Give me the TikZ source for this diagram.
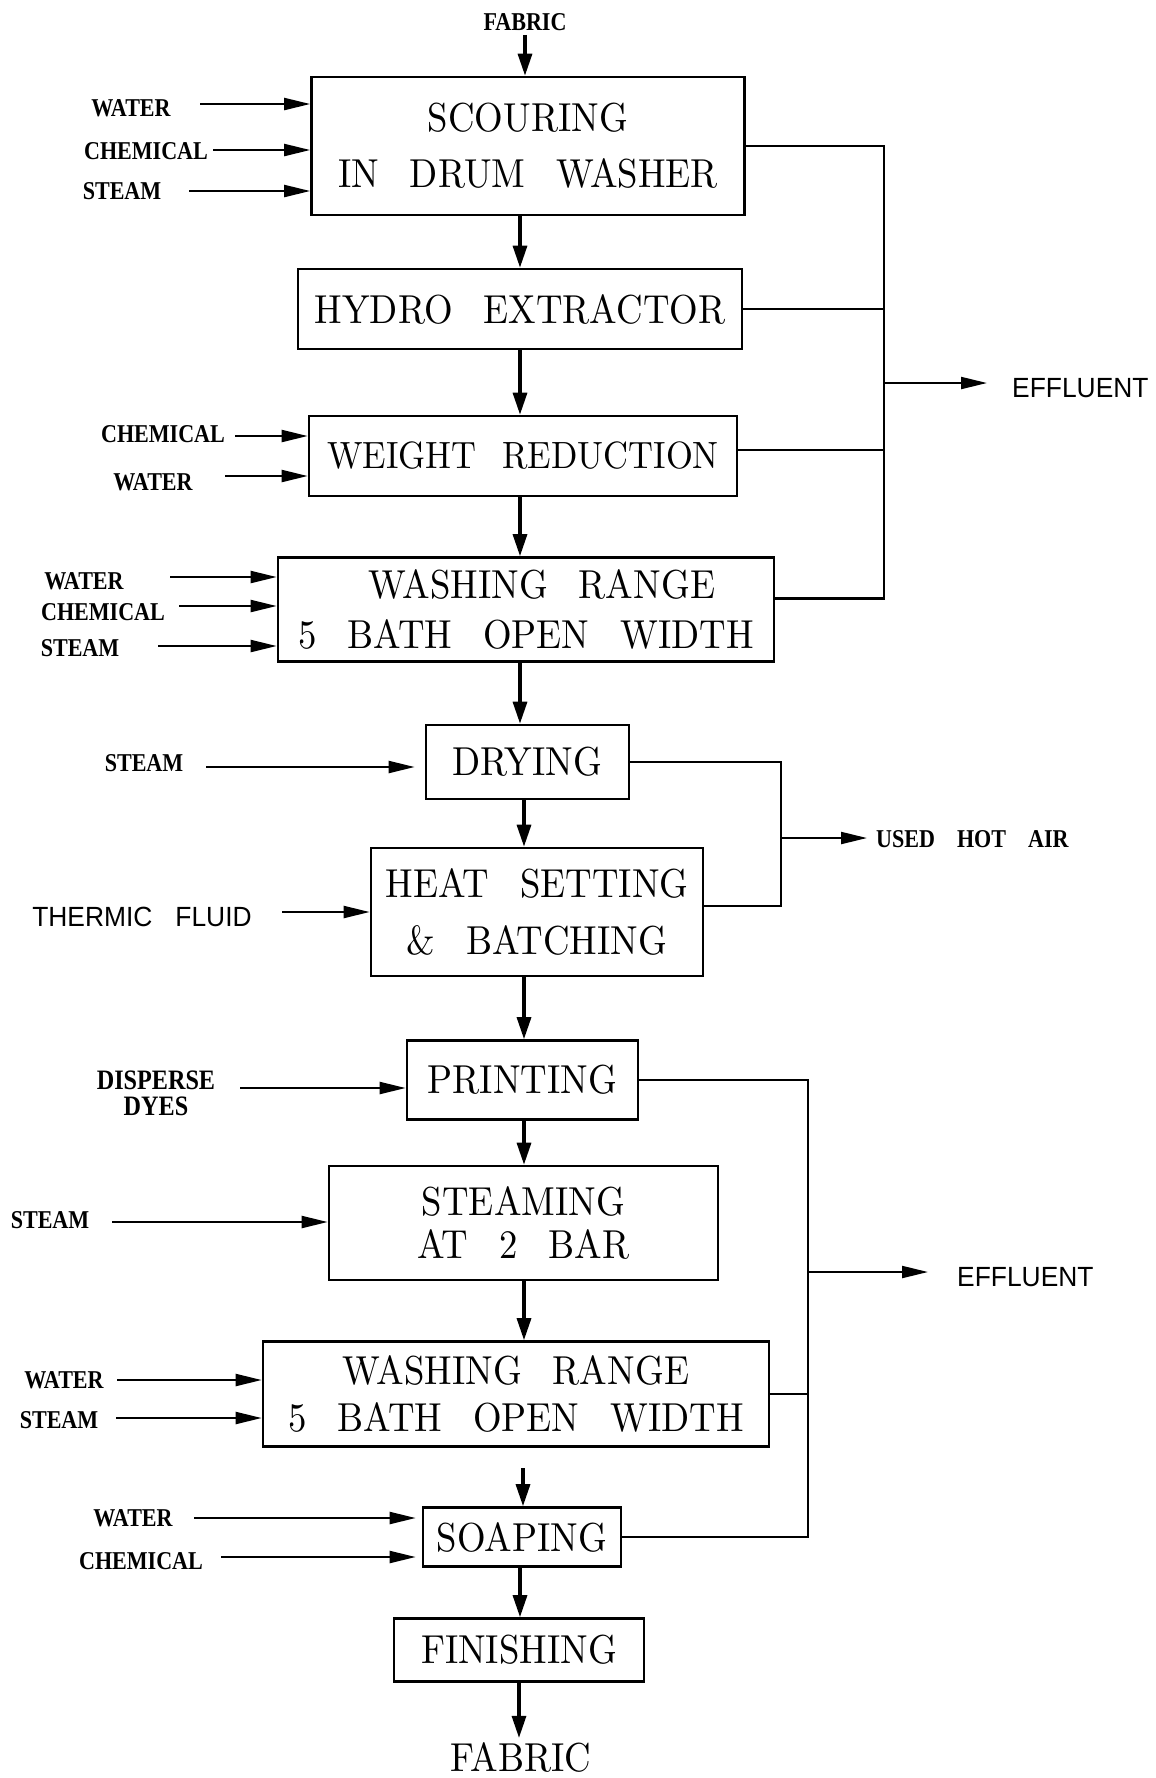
\documentclass[tikz,border=0pt]{standalone}
\usepackage{fontspec}
\usetikzlibrary{arrows.meta}
\newfontfamily\procfont{lmroman10-regular.otf}[FakeStretch=0.91]
\newfontfamily\lblfont{Liberation Serif}[FakeStretch=0.86]
\newfontfamily\cadfont{Liberation Sans}[FakeStretch=0.95]
\newcommand{\wgap}{\hspace{3.1mm}}
\newcommand{\lgap}{\hspace{2.2mm}}
\tikzset{
  procbox/.style={
    draw,line width=0.75pt,align=center,inner sep=1pt,
    font=\procfont\fontsize{11.5}{15}\selectfont
  },
  endlabel/.style={inner sep=1pt,font=\procfont\fontsize{11.5}{15}\selectfont},
  feedlabel/.style={inner sep=1pt,align=center,
    font=\lblfont\bfseries\fontsize{7.3}{9}\selectfont},
  outlabel/.style={inner sep=1pt,anchor=west,font=\cadfont\fontsize{7.9}{9.5}\selectfont},
  airlabel/.style={feedlabel,anchor=west},
  inarrow/.style={-{Triangle[length=2.6mm,width=1.2mm]},line width=0.6pt},
  mainarrow/.style={-{Triangle[length=2.2mm,width=1.4mm]},line width=0.9pt},
  collectline/.style={line width=0.6pt}
}
\begin{document}
\begin{tikzpicture}[x=0.1mm,y=-0.1mm]
  \useasboundingbox (0,0) rectangle (1155,1778);
  \coordinate (colA) at (520,0);
  \coordinate (colB) at (524,0);

  % process boxes
  \node[procbox,minimum width=43.3mm,minimum height=13.8mm] (scour) at (528,146)
    {SCOURING\\[1pt]IN\wgap DRUM\wgap WASHER};
  \node[procbox,minimum width=44.4mm,minimum height=8mm] (hydro) at (520,309)
    {HYDRO\wgap EXTRACTOR};
  \node[procbox,minimum width=42.8mm,minimum height=8mm,
    font=\procfont\fontsize{10.8}{15}\selectfont] (weight) at (523,456)
    {WEIGHT\hspace{2.6mm}REDUCTION};
  \node[procbox,minimum width=49.6mm,minimum height=10.4mm] (wash1) at (526,609.5)
    {\hspace*{3.2mm}WASHING\wgap RANGE\\[-1pt]5\wgap BATH\wgap OPEN\wgap WIDTH};
  \node[procbox,minimum width=20.3mm,minimum height=7.4mm] (dry) at (527.5,762) {DRYING};
  \node[procbox,minimum width=33.2mm,minimum height=12.8mm] (heat) at (537,912)
    {HEAT\wgap SETTING\\[1pt]\&\wgap BATCHING};
  \node[procbox,minimum width=23.1mm,minimum height=7.9mm] (print) at (522.5,1080) {PRINTING};
  \node[procbox,minimum width=38.9mm,minimum height=11.4mm] (steaming) at (523.5,1223)
    {STEAMING\\[-3pt]AT\wgap 2\wgap BAR};
  \node[procbox,minimum width=50.6mm,minimum height=10.5mm] (wash2) at (516,1394)
    {WASHING\wgap RANGE\\[-1.5pt]5\wgap BATH\wgap OPEN\wgap WIDTH};
  \node[procbox,minimum width=19.8mm,minimum height=5.9mm] (soap) at (522,1537) {SOAPING};
  \node[procbox,minimum width=25mm,minimum height=6.3mm] (finish) at (519,1650) {FINISHING};

  % fabric in and out
  \node[feedlabel] (fabin) at (525,22) {FABRIC};
  \node[endlabel] (fabout) at (521,1757) {FABRIC};
  \draw[mainarrow] (fabin.south) -- (fabin.south |- scour.north);
  \draw[mainarrow] (finish.south) -- (finish.south |- fabout.north);

  % main flow
  \draw[mainarrow] (scour.south -| colA) -- (hydro.north -| colA);
  \draw[mainarrow] (hydro.south -| colA) -- (weight.north -| colA);
  \draw[mainarrow] (weight.south -| colA) -- (wash1.north -| colA);
  \draw[mainarrow] (wash1.south -| colA) -- (dry.north -| colA);
  \draw[mainarrow] (dry.south -| colB) -- (heat.north -| colB);
  \draw[mainarrow] (heat.south -| colB) -- (print.north -| colB);
  \draw[mainarrow] (print.south -| colB) -- (steaming.north -| colB);
  \draw[mainarrow] (steaming.south -| colB) -- (wash2.north -| colB);
  \coordinate (soapin) at (523,1468);
  \draw[mainarrow] (soapin) -- (soapin |- soap.north);
  \draw[mainarrow] (soap.south -| colA) -- (finish.north -| colA);

  % feeds
  \node[feedlabel] (s-water) at (131,108) {WATER};
  \node[feedlabel] (s-chem) at (146,151) {CHEMICAL};
  \node[feedlabel] (s-steam) at (122,191) {STEAM};
  \coordinate (s-water-in) at (200,104);
  \coordinate (s-chem-in) at (213,150);
  \coordinate (s-steam-in) at (189,191);
  \draw[inarrow] (s-water-in) -- (s-water-in -| scour.west);
  \draw[inarrow] (s-chem-in) -- (s-chem-in -| scour.west);
  \draw[inarrow] (s-steam-in) -- (s-steam-in -| scour.west);

  \node[feedlabel] (w-chem) at (163,434) {CHEMICAL};
  \node[feedlabel] (w-water) at (153,482) {WATER};
  \coordinate (w-chem-in) at (235,436);
  \coordinate (w-water-in) at (225,476);
  \draw[inarrow] (w-chem-in) -- (w-chem-in -| weight.west);
  \draw[inarrow] (w-water-in) -- (w-water-in -| weight.west);

  \node[feedlabel] (r-water) at (84,581) {WATER};
  \node[feedlabel] (r-chem) at (103,612) {CHEMICAL};
  \node[feedlabel] (r-steam) at (80,648) {STEAM};
  \coordinate (r-water-in) at (170,577);
  \coordinate (r-chem-in) at (179,606);
  \coordinate (r-steam-in) at (158,646);
  \draw[inarrow] (r-water-in) -- (r-water-in -| wash1.west);
  \draw[inarrow] (r-chem-in) -- (r-chem-in -| wash1.west);
  \draw[inarrow] (r-steam-in) -- (r-steam-in -| wash1.west);

  \node[feedlabel] (d-steam) at (144,763) {STEAM};
  \coordinate (d-steam-in) at (206,767);
  \draw[inarrow,shorten >=1mm] (d-steam-in) -- (d-steam-in -| dry.west);

  \node[outlabel,anchor=center] (h-fluid) at (142,917) {THERMIC\hspace{2.3mm}FLUID};
  \coordinate (h-fluid-in) at (282,912);
  \draw[inarrow] (h-fluid-in) -- (h-fluid-in -| heat.west);

  \node[feedlabel,font=\lblfont\bfseries\fontsize{8}{9}\selectfont] (p-dyes) at (156,1093) {DISPERSE\\[-1.5pt]DYES};
  \coordinate (p-dyes-in) at (240,1088);
  \draw[inarrow] (p-dyes-in) -- (p-dyes-in -| print.west);

  \node[feedlabel] (t-steam) at (50,1220) {STEAM};
  \coordinate (t-steam-in) at (112,1222);
  \draw[inarrow] (t-steam-in) -- (t-steam-in -| steaming.west);

  \node[feedlabel] (v-water) at (64,1380) {WATER};
  \node[feedlabel] (v-steam) at (59,1420) {STEAM};
  \coordinate (v-water-in) at (117,1380);
  \coordinate (v-steam-in) at (116,1418);
  \draw[inarrow] (v-water-in) -- (v-water-in -| wash2.west);
  \draw[inarrow] (v-steam-in) -- (v-steam-in -| wash2.west);

  \node[feedlabel] (o-water) at (133,1518) {WATER};
  \node[feedlabel] (o-chem) at (141,1561) {CHEMICAL};
  \coordinate (o-water-in) at (194,1518);
  \coordinate (o-chem-in) at (221,1557);
  \draw[inarrow,shorten >=0.6mm] (o-water-in) -- (o-water-in -| soap.west);
  \draw[inarrow,shorten >=0.6mm] (o-chem-in) -- (o-chem-in -| soap.west);

  % effluent, upper part
  \coordinate (ef1) at (884,383);
  \node[outlabel] (eff1) at (1008,388) {EFFLUENT};
  \draw[collectline] (scour.east) -| (ef1);
  \draw[collectline] ([yshift=1.1mm]wash1.east) -| (ef1);
  \draw[collectline] (hydro.east) -- (hydro.east -| ef1);
  \draw[collectline] ([yshift=.6mm]weight.east) -- ([yshift=.6mm]weight.east -| ef1);
  \draw[inarrow,shorten >=2.1mm] (ef1) -- (ef1 -| eff1.west);

  % used hot air
  \coordinate (ha) at (781,838);
  \node[airlabel] (air) at (872,839) {USED\lgap HOT\lgap AIR};
  \draw[collectline] (dry.east) -| (ha);
  \draw[collectline] ([yshift=.6mm]heat.east) -| (ha);
  \draw[inarrow,shorten >=0.5mm] (ha) -- (ha -| air.west);

  % effluent, lower part
  \coordinate (ef2) at (808,1272);
  \node[outlabel] (eff2) at (953,1277) {EFFLUENT};
  \draw[collectline] (print.east) -| (ef2);
  \draw[collectline] (soap.east) -| (ef2);
  \draw[collectline] (wash2.east) -- (wash2.east -| ef2);
  \draw[inarrow,shorten >=2.5mm] (ef2) -- (ef2 -| eff2.west);
\end{tikzpicture}
\end{document}
